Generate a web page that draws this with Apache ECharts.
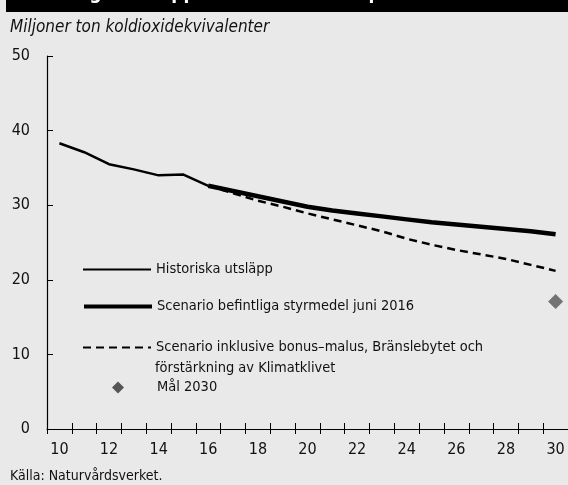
<!DOCTYPE html>
<html>
<head>
<meta charset="utf-8">
<script src="https://cdn.jsdelivr.net/npm/echarts@6/dist/echarts.min.js"></script>
<style>
  html, body { margin: 0; padding: 0; background: #e9e9e9; }
  #chart { width: 568px; height: 485px; }
</style>
</head>
<body>
<div id="chart"></div>
<script>
const FONT = "'Liberation Sans Narrow', 'DejaVu Sans Condensed', 'Roboto Condensed', sans-serif";

// År (två siffror) på x-axeln
const years = ["10", "11", "12", "13", "14", "15", "16", "17", "18", "19", "20",
  "21", "22", "23", "24", "25", "26", "27", "28", "29", "30"];

const histYears = ["10", "11", "12", "13", "14", "15", "16"];
const histValues = [38.3, 37.1, 35.5, 34.8, 34.0, 34.1, 32.6];

const scenYears = ["16", "17", "18", "19", "20", "21", "22", "23", "24", "25", "26", "27", "28", "29", "30"];
const scenBase = [32.6, 31.9, 31.2, 30.5, 29.8, 29.3, 28.9, 28.5, 28.1, 27.7, 27.4, 27.1, 26.8, 26.5, 26.1];
const scenBonus = [32.6, 31.6, 30.6, 29.8, 28.9, 28.1, 27.3, 26.5, 25.5, 24.7, 24.0, 23.4, 22.8, 22.0, 21.2];

const goalYear = "30";
const goalValue = 17.1;

const names = [
  "Historiska utsläpp",
  "Scenario befintliga styrmedel juni 2016",
  "Scenario inklusive bonus–malus, Bränslebytet och förstärkning av Klimatklivet",
  "Mål 2030"
];

const pairs = (xs, ys) => xs.map((x, i) => [x, ys[i]]);

const chart = echarts.init(document.getElementById("chart"));

const legendBase = {
  orient: "vertical",
  left: 82,
  padding: 0,
  itemWidth: 68,
  itemHeight: 10,
  itemGap: 0,
  selectedMode: false,
  itemStyle: { opacity: 0 },
  textStyle: { fontFamily: FONT, fontSize: 14.5, color: "#111" }
};

chart.setOption({
  backgroundColor: "#e9e9e9",
  animation: false,
  title: [
    {
      text: "Växthusgasutsläpp från inrikes transporter 2010–2030",
      left: 12,
      top: -15,
      padding: 0,
      textStyle: { fontFamily: FONT, fontSize: 19, fontWeight: "bold", color: "#fff" }
    },
    {
      text: "Miljoner ton koldioxidekvivalenter",
      left: 10,
      top: 19,
      padding: 0,
      textStyle: { fontFamily: FONT, fontSize: 17, fontStyle: "italic", fontWeight: "normal", color: "#111" }
    },
    {
      text: "Källa: Naturvårdsverket.",
      left: 10,
      top: 469,
      padding: 0,
      textStyle: { fontFamily: FONT, fontSize: 14, fontWeight: "normal", color: "#111" }
    }
  ],
  graphic: [
    { type: "rect", left: 6, top: 0, z: -1, shape: { width: 562, height: 12 }, style: { fill: "#000" } },
    {
      type: "text", left: 155, top: 361,
      style: { text: "förstärkning av Klimatklivet", font: "14.5px " + FONT, fill: "#111" }
    }
  ],
  legend: [
    Object.assign({}, legendBase, { top: 262, data: [names[0]] }),
    Object.assign({}, legendBase, { top: 299, data: [names[1]], lineStyle: { width: 4 } }),
    Object.assign({}, legendBase, {
      top: 340, data: [names[2]],
      formatter: () => "Scenario inklusive bonus–malus, Bränslebytet och"
    }),
    Object.assign({}, legendBase, {
      top: 380,
      itemWidth: 12,
      itemHeight: 12,
      left: 112,
      symbolKeepAspect: true,
      itemStyle: { opacity: 1 },
      textStyle: { fontFamily: FONT, fontSize: 14.5, color: "#111", padding: [0, 0, 0, 28] },
      data: [{ name: names[3], icon: "diamond" }]
    })
  ],
  grid: { left: 47, right: 0, top: 56, bottom: 56 },
  xAxis: [
    {
      type: "category",
      data: years,
      boundaryGap: true,
      axisLine: { lineStyle: { color: "#000", width: 1.2 } },
      axisTick: { show: true, interval: 0, length: 5, lineStyle: { color: "#000" } },
      axisLabel: { interval: 1, margin: 13, fontFamily: FONT, fontSize: 16, color: "#111" }
    },
    {
      type: "category",
      data: years,
      position: "bottom",
      boundaryGap: true,
      axisLine: { show: false },
      axisTick: { show: true, inside: true, interval: 0, length: 6, lineStyle: { color: "#000" } },
      axisLabel: { show: false }
    }
  ],
  yAxis: {
    type: "value",
    min: 0,
    max: 50,
    interval: 10,
    splitLine: { show: false },
    axisLine: { show: true, lineStyle: { color: "#000", width: 1.2 } },
    axisTick: { show: true, inside: true, length: 6, lineStyle: { color: "#000" } },
    axisLabel: { margin: 17, fontFamily: FONT, fontSize: 16, color: "#111" }
  },
  series: [
    {
      name: names[0],
      type: "line",
      symbol: "none",
      data: pairs(histYears, histValues),
      lineStyle: { color: "#000", width: 2.5 },
      itemStyle: { color: "#000" }
    },
    {
      name: names[1],
      type: "line",
      symbol: "none",
      data: pairs(scenYears, scenBase),
      lineStyle: { color: "#000", width: 4.5 },
      itemStyle: { color: "#000" }
    },
    {
      name: names[2],
      type: "line",
      symbol: "none",
      data: pairs(scenYears, scenBonus),
      lineStyle: { color: "#000", width: 2.5, type: [8, 5] },
      itemStyle: { color: "#000" }
    },
    {
      name: names[3],
      type: "scatter",
      symbol: "diamond",
      symbolSize: 15,
      data: [[goalYear, goalValue]],
      itemStyle: { color: "#555" }
    }
  ]
});
</script>
</body>
</html>
